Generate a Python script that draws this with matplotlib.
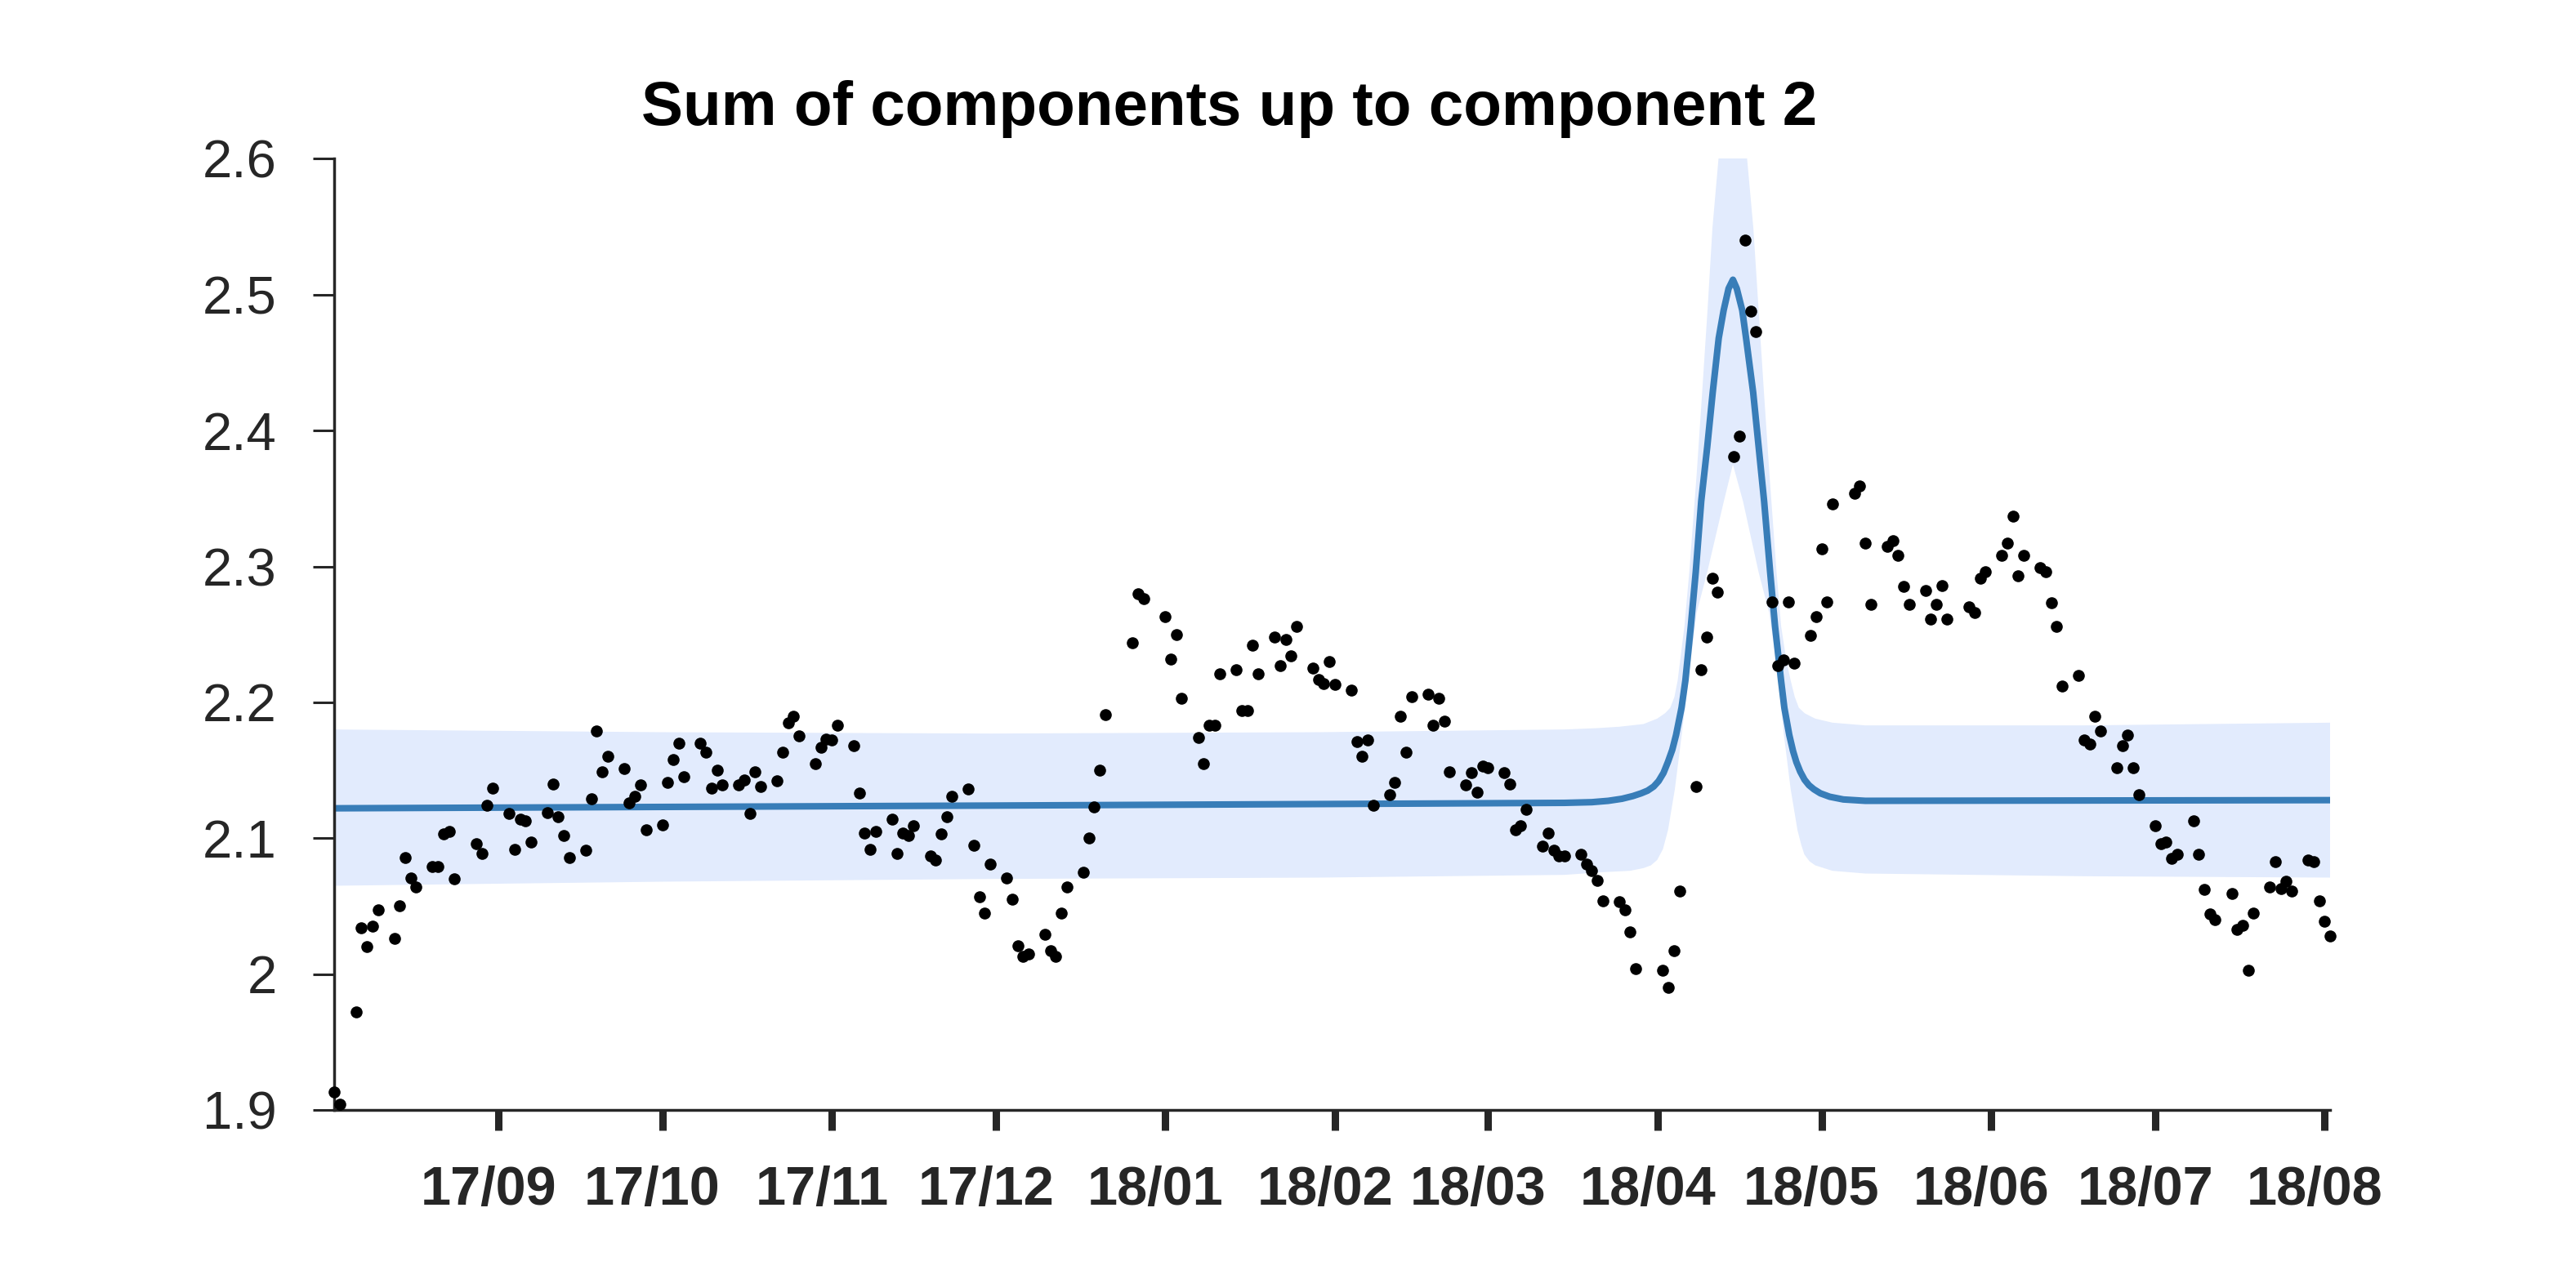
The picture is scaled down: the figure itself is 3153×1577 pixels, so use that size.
import matplotlib
matplotlib.use("Agg")
import matplotlib.pyplot as plt
import matplotlib.transforms as mtransforms
import pandas as pd

# ---------------- data ----------------
first_obs = "2017-08-03"
last_obs = "2018-08-03"
uk_holidays = ["2017-08-28", "2017-12-25", "2017-12-26", "2018-01-01",
               "2018-03-30", "2018-04-02", "2018-05-07", "2018-05-28"]
obs_dates = pd.bdate_range(first_obs, last_obs, freq="C", holidays=uk_holidays)

obs_values = [
    1.913, 1.904,
    1.972, 2.034, 2.020, 2.035, 2.047,
    2.026, 2.050, 2.086, 2.071, 2.064,
    2.079, 2.079, 2.103, 2.105, 2.070,
    2.096, 2.089, 2.124, 2.137,
    2.118, 2.092, 2.114, 2.113, 2.097,
    2.119, 2.140, 2.116, 2.102, 2.086,
    2.091, 2.129, 2.179, 2.149, 2.160,
    2.151, 2.126, 2.131, 2.139, 2.106,
    2.110, 2.141, 2.158, 2.170, 2.145,
    2.170, 2.163, 2.137, 2.150, 2.139,
    2.139, 2.143, 2.118, 2.149, 2.138,
    2.142, 2.163, 2.185, 2.190, 2.175,
    2.155, 2.167, 2.173, 2.172, 2.183,
    2.168, 2.133, 2.104, 2.092, 2.105,
    2.114, 2.089, 2.104, 2.102, 2.109,
    2.087, 2.084, 2.103, 2.116, 2.131,
    2.136, 2.095, 2.057, 2.045, 2.081,
    2.071, 2.055, 2.021, 2.013, 2.015,
    2.029, 2.017, 2.013, 2.045, 2.064,
    2.075, 2.100, 2.123, 2.150, 2.191,
    2.244, 2.280, 2.276,
    2.263, 2.232, 2.250, 2.203,
    2.174, 2.155, 2.183, 2.183, 2.221,
    2.224, 2.194, 2.194, 2.242, 2.221,
    2.248, 2.227, 2.246, 2.234, 2.256,
    2.225, 2.217, 2.214, 2.230, 2.213,
    2.209, 2.171, 2.160, 2.172, 2.124,
    2.132, 2.141, 2.190, 2.163, 2.204,
    2.206, 2.183, 2.203, 2.186, 2.149,
    2.139, 2.148, 2.134, 2.153, 2.152,
    2.148, 2.140, 2.106, 2.109, 2.121,
    2.094, 2.104, 2.091, 2.087, 2.087,
    2.088, 2.081, 2.076, 2.069, 2.054,
    2.053, 2.047, 2.031, 2.004,
    2.003, 1.990, 2.017, 2.061,
    2.138, 2.224, 2.248, 2.291, 2.281,
    2.381, 2.396, 2.540, 2.488, 2.473,
    2.274, 2.227, 2.231, 2.274, 2.229,
    2.249, 2.263, 2.313, 2.274, 2.346,
    2.354, 2.359, 2.317, 2.272,
    2.315, 2.319, 2.308, 2.285, 2.272,
    2.282, 2.261, 2.272, 2.286, 2.261,
    2.270, 2.266, 2.291, 2.296,
    2.308, 2.317, 2.337, 2.293, 2.308,
    2.299, 2.296, 2.273, 2.256, 2.212,
    2.220, 2.172, 2.169, 2.190, 2.179,
    2.152, 2.168, 2.176, 2.152, 2.132,
    2.109, 2.096, 2.097, 2.085, 2.088,
    2.113, 2.088, 2.062, 2.044, 2.040,
    2.059, 2.033, 2.036, 2.003, 2.045,
    2.064, 2.083, 2.063, 2.068, 2.061,
    2.084, 2.083, 2.054, 2.039, 2.028,
]

# posterior mean (days after first observation, value)
mean_days = [0, 120, 200, 225, 230, 233.0, 235.5, 237.5, 239.0, 240.2, 241.3,
             242.2, 243.1, 243.9, 244.7, 245.4, 246.4, 247.1, 248.1, 249.0,
             250.0, 251.1, 252.1, 253.2, 254.1, 255.0, 255.8, 256.5, 257.5,
             258.2, 259.5, 260.5, 261.5, 262.6, 263.5, 264.6, 265.2, 266.1,
             266.8, 267.4, 268.1, 268.9, 269.7, 270.6, 271.8, 273.5, 276.0,
             280.0, 365]
mean_vals = [2.122, 2.124, 2.1255, 2.126, 2.1265, 2.1275, 2.129, 2.131, 2.133, 2.135, 2.138,
             2.142, 2.148, 2.156, 2.165, 2.176, 2.196, 2.216, 2.256, 2.296,
             2.348, 2.388, 2.428, 2.468, 2.4885, 2.5045, 2.511, 2.5045, 2.4885,
             2.468, 2.428, 2.388, 2.348, 2.296, 2.256, 2.216, 2.196, 2.176,
             2.164, 2.156, 2.149, 2.143, 2.139, 2.136, 2.133, 2.1305, 2.1285,
             2.1275, 2.128]

# credible band, upper edge
upper_days = [0, 60, 120, 180, 225, 231.0, 234.96, 239.45, 241.95, 243.4, 244.34,
              245.1, 245.69, 246.93, 247.82, 249.17, 250.17, 251.16, 252.05, 253.16,
              255.79, 258.39, 259.53, 260.49, 261.47, 262.47, 263.77, 264.61,
              265.6, 266.36, 267.1, 267.85, 268.9, 269.84, 270.85, 274.0, 280,
              320, 365]
upper_vals = [2.180, 2.178, 2.177, 2.178, 2.180, 2.181, 2.182, 2.184, 2.188, 2.192, 2.196,
              2.204, 2.216, 2.256, 2.296, 2.368, 2.428, 2.489, 2.549, 2.600,
              2.647, 2.600, 2.549, 2.489, 2.428, 2.368, 2.296, 2.256,
              2.230, 2.216, 2.204, 2.196, 2.192, 2.190, 2.188, 2.185, 2.183,
              2.183, 2.185]

# credible band, lower edge
lower_days = [0, 60, 120, 180, 225, 231.97, 237.0, 239.45, 240.8, 241.95, 243.0,
              243.93, 245.17, 246.43, 247.92, 249.17, 251.11, 254.14, 255.79,
              257.64, 260.48, 262.41, 263.86, 265.12, 266.36, 267.60, 268.3,
              268.86, 269.8, 270.85, 274.0, 280, 320, 365]
lower_vals = [2.065, 2.068, 2.070, 2.071, 2.073, 2.075, 2.076, 2.078, 2.080, 2.084, 2.092,
              2.106, 2.136, 2.176, 2.226, 2.266, 2.296, 2.348, 2.375,
              2.348, 2.296, 2.266, 2.226, 2.176, 2.136, 2.106, 2.095,
              2.088, 2.083, 2.080, 2.076, 2.074, 2.072, 2.071]

tick_months = ["2017-09", "2017-10", "2017-11", "2017-12", "2018-01", "2018-02",
               "2018-03", "2018-04", "2018-05", "2018-06", "2018-07", "2018-08"]
tick_labels = ["17/09", "17/10", "17/11", "17/12", "18/01", "18/02",
               "18/03", "18/04", "18/05", "18/06", "18/07", "18/08"]
y_ticks = [1.9, 2.0, 2.1, 2.2, 2.3, 2.4, 2.5, 2.6]

title = "Sum of components up to component 2"

# ---------------- drawing ----------------
W, H = 3153, 1577
fig = plt.figure(figsize=(W / 100, H / 100), dpi=100)
ax = fig.add_axes([409 / W, 1 - 1359 / H, (2852 - 409) / W, (1359 - 194.4) / H])

t0 = pd.Timestamp(first_obs)
to_x = lambda days: [t0 + pd.Timedelta(days=d) for d in days]

band_x = to_x(upper_days) + to_x(lower_days)[::-1]
band_y = list(upper_vals) + list(lower_vals)[::-1]
ax.fill(band_x, band_y, color="#E2EBFD", lw=0, zorder=1)
ax.plot(to_x(mean_days), mean_vals, color="#387DB8", lw=5.8, zorder=2,
        solid_capstyle="round", solid_joinstyle="round")
ax.plot(obs_dates, obs_values, "o", color="black", ms=10.5, mew=0, zorder=3,
        clip_on=False)

ax.set_xlim(pd.Timestamp(first_obs), pd.Timestamp(last_obs))
ax.set_ylim(1.9, 2.6)

tick_pos = [pd.Timestamp(m + "-01") + pd.Timedelta(days=1) for m in tick_months]
ax.set_xticks(tick_pos)
ax.set_xticklabels(tick_labels)
ax.set_yticks(y_ticks)
ax.set_yticklabels([f"{v:g}" for v in y_ticks])

dark = "#262626"
for s in ["top", "right"]:
    ax.spines[s].set_visible(False)
for s in ["left", "bottom"]:
    ax.spines[s].set_linewidth(2.5)
    ax.spines[s].set_color(dark)

ax.tick_params(axis="y", direction="out", length=18.7, width=2.2, pad=32,
               colors=dark, labelsize=47)
ax.tick_params(axis="x", direction="out", length=18, width=6.5, pad=31,
               colors=dark, labelsize=48)

shift = mtransforms.ScaledTranslation(-12 / 100, 0, fig.dpi_scale_trans)
for lab in ax.get_xticklabels():
    lab.set_family("Liberation Sans")
    lab.set_fontweight("bold")
    lab.set_transform(lab.get_transform() + shift)
for lab in ax.get_yticklabels():
    lab.set_family("Liberation Sans")

fig.text(1505 / W, 1 - 153 / H, title, ha="center", va="baseline",
         fontsize=55, fontweight="bold", family="Liberation Sans", color="black")

fig.savefig("out.png", dpi=100)
